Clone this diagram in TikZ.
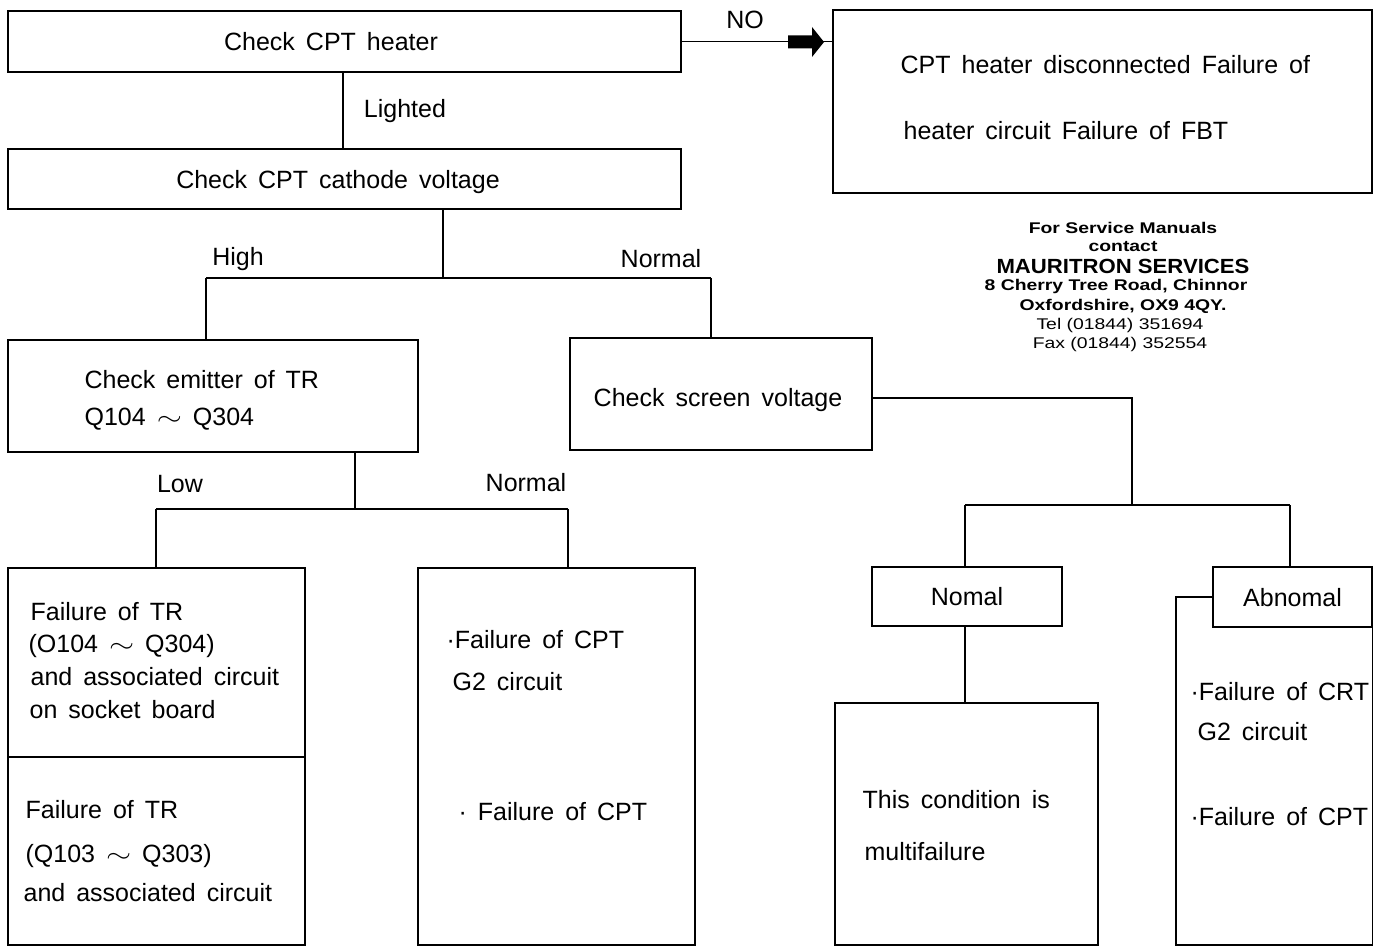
\documentclass[tikz,border=0pt]{standalone}
\usepackage{fontspec}
\setmainfont{Liberation Sans}
\newcommand{\mainfnt}{\fontsize{25}{30}\selectfont\spaceskip=0.44em\relax}
\newcommand{\adrfnt}{\fontsize{15.5}{18}\selectfont}
\newcommand{\tld}{\scalebox{1.3}[1]{$\sim$}}
\begin{document}
\begin{tikzpicture}[x=1pt,y=-1pt,line width=1.2pt,
  box/.style={draw,rectangle,inner sep=0pt,font=\mainfnt,text height=18pt,text depth=0pt},
  lbl/.style={font=\mainfnt,inner sep=0pt},
  ltxt/.style={font=\mainfnt,inner sep=0pt,anchor=base west},
  adr/.style={inner sep=0pt,xscale=1.25,font=\adrfnt}]
\useasboundingbox (0,0) rectangle (1377,947);
% boxes
\node[box,minimum width=673pt,minimum height=61pt] (heater) at (344.5,41.5) {};
\node[box,minimum width=673pt,minimum height=60pt] (cathode) at (344.5,179) {};
\node[box,minimum width=539pt,minimum height=183pt] (nobox) at (1102.5,101.5) {};
\node[box,minimum width=410pt,minimum height=112pt] (emitter) at (213,396) {};
\node[box,minimum width=302pt,minimum height=112pt] (screen) at (721,394) {};
\node[box,minimum width=297pt,minimum height=189pt] (trA) at (156.5,662.5) {};
\node[box,minimum width=297pt,minimum height=188pt] (trB) at (156.5,851) {};
\node[box,minimum width=277pt,minimum height=377pt] (cptbox) at (556.5,756.5) {};
\node[box,minimum width=190pt,minimum height=59pt] (nomal) at (967,596.5) {Nomal};
\node[box,minimum width=263pt,minimum height=242pt] (multi) at (966.5,824) {};
\node[box,minimum width=159pt,minimum height=60pt] (abnomal) at (1292.5,597) {Abnomal};
\coordinate (abL) at (1176,945);
\draw (abnomal.west) -| (abL) -| (abnomal.south east);
% texts in boxes
\node[lbl,text height=18pt,text depth=0pt] (ht) at (331,42) {Check CPT heater};
\node[lbl,text height=18pt,text depth=0pt] (ct) at (338,180) {Check CPT cathode voltage};
\node[lbl,text height=18pt,text depth=0pt] (st) at (718,397) {Check screen voltage};
\node[ltxt] (no1) at (900,74) {CPT heater disconnected Failure of};
\node[ltxt] (no2) at (903,140) {heater circuit Failure of FBT};
\node[ltxt] (em1) at (84,388) {Check emitter of TR};
\node[ltxt] (em2) at (84,425) {Q104 \tld\ Q304};
\node[ltxt] (ta1) at (30,620) {Failure of TR};
\node[ltxt] (ta2) at (28,652) {(O104 \tld\ Q304)};
\node[ltxt] (ta3) at (30,685) {and associated circuit};
\node[ltxt] (ta4) at (29,718) {on socket board};
\node[ltxt] (tb1) at (25,818) {Failure of TR};
\node[ltxt] (tb2) at (25,862) {(Q103 \tld\ Q303)};
\node[ltxt] (tb3) at (23,901) {and associated circuit};
\node[ltxt] (cp1) at (446,648) {·Failure of CPT};
\node[ltxt] (cp2) at (452,690) {G2 circuit};
\node[ltxt] (cp3) at (458,820) {· Failure of CPT};
\node[ltxt] (mu1) at (862,808) {This condition is};
\node[ltxt] (mu2) at (864,860) {multifailure};
\node[ltxt] (ab1) at (1190,700) {·Failure of CRT};
\node[ltxt] (ab2) at (1197,740) {G2 circuit};
\node[ltxt] (ab3) at (1190,825) {·Failure of CPT};
% NO arrow
\coordinate (arrtip) at (824,42);
\draw (heater.east) -- (heater.east -| nobox.west);
\fill[shift={(arrtip)}] (-36,-6.5) rectangle (-12,6.5) (-12,-15) -- (0,0) -- (-12,15) -- cycle;
\node[lbl] (lno) at (745,20) {NO};
% heater -> cathode
\draw (heater.south -| 343,0) -- (cathode.north -| 343,0);
\node[lbl] (llit) at (405,111) {Lighted};
% cathode split
\coordinate (cj) at (443,278);
\coordinate (hL) at (206,278);
\coordinate (hR) at (711,278);
\draw (cj |- cathode.south) -- (cj);
\draw (hL) -- (hR);
\draw (hL) -- (hL |- emitter.north);
\draw (hR) -- (hR |- screen.north);
\node[lbl] (lhigh) at (238,259) {High};
\node[lbl] (lnorm1) at (661,259) {Normal};
% emitter split
\coordinate (ej) at (355,509);
\coordinate (eL) at (156,509);
\coordinate (eR) at (568,509);
\draw (ej |- emitter.south) -- (ej);
\draw (eL) -- (eR);
\draw (eL) -- (eL |- trA.north);
\draw (eR) -- (eR |- cptbox.north);
\node[lbl] (llow) at (180,484) {Low};
\node[lbl] (lnorm2) at (526,483) {Normal};
% screen split
\coordinate (sc) at (872,398);
\coordinate (sj) at (1132,398);
\coordinate (sjd) at (1132,505);
\coordinate (sL) at (965,505);
\coordinate (sR) at (1290,505);
\draw (screen.east |- sc) -- (sj) -- (sjd);
\draw (sL) -- (sR);
\draw (sL) -- (sL |- nomal.north);
\draw (sR) -- (sR |- abnomal.north);
\draw (nomal.south -| sL) -- (multi.north -| sL);
% address
\node[adr,font=\adrfnt\bfseries] (ad1) at (1123,228) {For Service Manuals};
\node[adr,font=\adrfnt\bfseries] (ad2) at (1123,247) {contact};
\node[inner sep=0pt,xscale=1.08,font=\fontsize{20.5}{24}\selectfont\bfseries] (ad3) at (1123,266) {MAURITRON SERVICES};
\node[adr,font=\adrfnt\bfseries] (ad4) at (1116,286) {8 Cherry Tree Road, Chinnor};
\node[adr,font=\adrfnt\bfseries] (ad5) at (1123,306) {Oxfordshire, OX9 4QY.};
\node[adr] (ad6) at (1120,325) {Tel (01844) 351694};
\node[adr] (ad7) at (1120,344) {Fax (01844) 352554};
\end{tikzpicture}
\end{document}
